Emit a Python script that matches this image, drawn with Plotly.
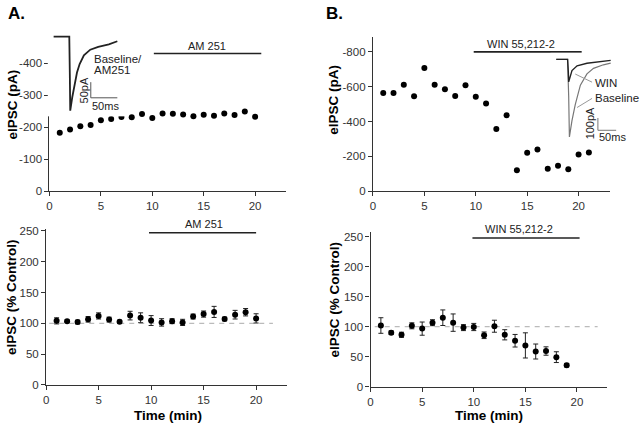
import plotly.graph_objects as go

W, H = 640, 432
FONT = "Liberation Sans, Arial, Helvetica, sans-serif"

# ---------------- data ----------------
time_a = list(range(1, 21))
eipsc_a = [-183, -193, -203, -207, -222, -226, -232, -231, -241, -229,
           -243, -242, -240, -234, -239, -236, -243, -238, -249, -233]

time_b = list(range(1, 22))
eipsc_b = [-564, -564, -611, -545, -708, -611, -586, -547, -608, -543,
           -503, -357, -436, -121, -221, -239, -129, -146, -127, -211, -222]

pct_time_a = list(range(1, 21))
pct_a = [104, 103.5, 102, 106.5, 112, 106, 102.5, 112.5, 109, 104.5,
         101.5, 103.5, 101.5, 111, 115, 118.5, 107, 114, 118, 108]
pct_a_err = [5, 2, 3, 4.5, 5, 4, 2.5, 7, 8, 8, 6, 4, 5, 4, 5, 9, 3, 7, 6, 7.5]

pct_time_b = list(range(1, 20))
pct_b = [102, 90, 86.5, 101.5, 96.8, 106.7, 115, 106.8, 98.5, 99.5,
         85.7, 100.8, 86.5, 76.6, 68.8, 58.6, 59.4, 49.2, 35.7]
pct_b_err = [13, 3, 4.3, 5, 11, 5, 13, 14.5, 5, 6, 5.5, 10, 8.5, 10.5, 21, 12.5, 7, 9, 3]

control_level = 100
control_span_a = [0.3, 21.6]
control_span_b = [0.4, 22.0]

# drug application bars (min) and their labels
drug_a = "AM 251"
drug_b = "WIN 55,212-2"
bar_a_top_x, bar_a_top_y = [10.15, 20.6], -430
bar_b_top_x, bar_b_top_y = [9.8, 20.3], -800
bar_a_bot_x, bar_a_bot_y = [9.8, 20.0], 247
bar_b_bot_x, bar_b_bot_y = [9.87, 20.25], 248

xticks = [0, 5, 10, 15, 20]
yticks_a_top = [0, -100, -200, -300, -400]
yticks_b_top = [0, -200, -400, -600, -800]
yticks_pct = [0, 50, 100, 150, 200, 250]

# inset traces (ms, pA)
insetA_ms = [11, 40.5, 41.5, 42.3, 46, 50, 55, 60, 68, 80, 95, 115, 131]
insetA_pA = [0, 0, -120, -237, -195, -155, -115, -88, -60, -42, -33, -25, -15]

insetB_win_ms = [16, 47, 49, 50, 59, 73, 100, 136, 165]
insetB_win_pA = [0, 0, -100, -183, -91, -52, -31, -18, -8]
insetB_base_ms = [16, 47, 50, 52, 59, 68, 82, 100, 118, 145, 165]
insetB_base_pA = [0, 0, -300, -630, -498, -367, -209, -118, -73, -44, -31]

# ---------------- helpers ----------------
def dx(p0, p1):
    return [p0 / W, p1 / W]

def dy(pb, pt):
    return [1 - pb / H, 1 - pt / H]

axis_style = dict(showline=True, linecolor="#333", linewidth=1.2, ticks="outside",
                  ticklen=4, tickwidth=1.2, tickcolor="#333", showgrid=False,
                  zeroline=False, tickfont=dict(family=FONT, size=11.5, color="#333"),
                  autorange=False, fixedrange=True)

fig = go.Figure()

# ---- panel A top
fig.add_trace(go.Scatter(x=time_a, y=eipsc_a, mode="markers",
                         marker=dict(color="black", size=6), xaxis="x", yaxis="y"))
fig.add_trace(go.Scatter(x=bar_a_top_x, y=[bar_a_top_y] * 2, mode="lines",
                         line=dict(color="#222", width=1.6), xaxis="x", yaxis="y"))
# ---- panel B top
fig.add_trace(go.Scatter(x=time_b, y=eipsc_b, mode="markers",
                         marker=dict(color="black", size=6), xaxis="x2", yaxis="y2"))
fig.add_trace(go.Scatter(x=bar_b_top_x, y=[bar_b_top_y] * 2, mode="lines",
                         line=dict(color="#222", width=1.6), xaxis="x2", yaxis="y2"))
# ---- panel A bottom
fig.add_trace(go.Scatter(x=control_span_a, y=[control_level] * 2, mode="lines",
                         line=dict(color="#bbb", width=1.2, dash="5px,5px"), xaxis="x3", yaxis="y3"))
fig.add_trace(go.Scatter(x=pct_time_a, y=pct_a, mode="markers",
                         marker=dict(color="black", size=6),
                         error_y=dict(type="data", array=pct_a_err, color="#222", thickness=1, width=2.5),
                         xaxis="x3", yaxis="y3"))
fig.add_trace(go.Scatter(x=bar_a_bot_x, y=[bar_a_bot_y] * 2, mode="lines",
                         line=dict(color="#222", width=1.6), xaxis="x3", yaxis="y3"))
# ---- panel B bottom
fig.add_trace(go.Scatter(x=control_span_b, y=[control_level] * 2, mode="lines",
                         line=dict(color="#bbb", width=1.2, dash="5px,5px"), xaxis="x4", yaxis="y4"))
fig.add_trace(go.Scatter(x=pct_time_b, y=pct_b, mode="markers",
                         marker=dict(color="black", size=6),
                         error_y=dict(type="data", array=pct_b_err, color="#222", thickness=1, width=2.5),
                         xaxis="x4", yaxis="y4"))
fig.add_trace(go.Scatter(x=bar_b_bot_x, y=[bar_b_bot_y] * 2, mode="lines",
                         line=dict(color="#222", width=1.6), xaxis="x4", yaxis="y4"))

# ---- inset A (current trace + scale bars)
fig.add_trace(go.Scatter(x=insetA_ms, y=insetA_pA, mode="lines",
                         line=dict(color="#222", width=1.8), xaxis="x5", yaxis="y5"))
fig.add_trace(go.Scatter(x=[81, 81, 131], y=[-146, -196, -196], mode="lines",
                         line=dict(color="#555", width=1), xaxis="x5", yaxis="y5"))
# ---- inset B
fig.add_trace(go.Scatter(x=insetB_base_ms, y=insetB_base_pA, mode="lines",
                         line=dict(color="#777", width=1.2), xaxis="x6", yaxis="y6"))
fig.add_trace(go.Scatter(x=insetB_win_ms, y=insetB_win_pA, mode="lines",
                         line=dict(color="#222", width=1.4), xaxis="x6", yaxis="y6"))
fig.add_trace(go.Scatter(x=[68, 114], y=[-119, -185], mode="lines",
                         line=dict(color="#999", width=1), xaxis="x6", yaxis="y6"))
fig.add_trace(go.Scatter(x=[73, 114], y=[-391, -317], mode="lines",
                         line=dict(color="#999", width=1), xaxis="x6", yaxis="y6"))
fig.add_trace(go.Scatter(x=[130, 130, 180], y=[-476, -576, -576], mode="lines",
                         line=dict(color="#777", width=1), xaxis="x6", yaxis="y6"))

fig.update_traces(showlegend=False, hoverinfo="skip")

def tt(vals):
    return [str(v) for v in vals]

fig.update_layout(
    width=W, height=H, margin=dict(l=0, r=0, t=0, b=0),
    paper_bgcolor="white", plot_bgcolor="white", showlegend=False,
    font=dict(family=FONT, color="#222"),
    xaxis=dict(axis_style, domain=dx(46.7, 46.7 + 23 * 10.33), range=[0, 23], anchor="y",
               tickvals=xticks),
    yaxis=dict(axis_style, domain=dy(191.7, 31.7), range=[0, -488], anchor="x",
               tickvals=yticks_a_top, ticktext=tt(yticks_a_top)),
    xaxis2=dict(axis_style, domain=dx(371.7, 371.7 + 23.1 * 10.33), range=[0, 23.1], anchor="y2",
                tickvals=xticks),
    yaxis2=dict(axis_style, domain=dy(191.7, 33.3), range=[0, -888], anchor="x2",
                tickvals=yticks_b_top, ticktext=tt(yticks_b_top)),
    xaxis3=dict(axis_style, domain=dx(43.3, 43.3 + 22.9 * 10.55), range=[0, 22.9], anchor="y3",
                tickvals=xticks),
    yaxis3=dict(axis_style, domain=dy(390, 230), range=[0, 253.5], anchor="x3",
                tickvals=yticks_pct),
    xaxis4=dict(axis_style, domain=dx(369.3, 369.3 + 22.9 * 10.37), range=[0, 22.9], anchor="y4",
                tickvals=xticks),
    yaxis4=dict(axis_style, domain=dy(391.7, 233.3), range=[0, 258.2], anchor="x4",
                tickvals=yticks_pct),
    xaxis5=dict(visible=False, domain=dx(45, 125), range=[0, 150], anchor="y5", fixedrange=True),
    yaxis5=dict(visible=False, domain=dy(115, 28), range=[-255.3, 16.6], anchor="x5", fixedrange=True),
    xaxis6=dict(visible=False, domain=dx(550, 625), range=[0, 204.4], anchor="y6", fixedrange=True),
    yaxis6=dict(visible=False, domain=dy(145, 50), range=[-700.8, 53.2], anchor="x6", fixedrange=True),
)

ann = []
def A(text, x, y, xref="paper", yref="paper", size=11, bold=False, angle=0,
      xanchor="center", yanchor="middle", color="#222"):
    if xref == "paper":
        x = x / W
    if yref == "paper":
        y = 1 - y / H
    ann.append(dict(text=f"<b>{text}</b>" if bold else text, x=x, y=y, xref=xref, yref=yref,
                    showarrow=False, textangle=angle, xanchor=xanchor, yanchor=yanchor,
                    font=dict(family=FONT, size=size, color=color)))

# panel letters
A("A.", 3, 10, size=17, bold=True, xanchor="left", color="black")
A("B.", 323, 10, size=17, bold=True, xanchor="left", color="black")
# axis titles
A("eIPSC (pA)", 10, 103, size=13.5, bold=True, angle=-90, color="black")
A("eIPSC (pA)", 332.5, 98, size=13.5, bold=True, angle=-90, color="black")
A("eIPSC (% Control)", 8, 300, size=13.5, bold=True, angle=-90, color="black")
A("eIPSC (% Control)", 333, 302, size=13.5, bold=True, angle=-90, color="black")
A("Time (min)", 166, 421.5, size=13.5, bold=True, color="black")
A("Time (min)", 488.7, 421.5, size=13.5, bold=True, color="black")
# drug labels (top panels in data coords, bottom panels above the axis range -> paper coords)
A(drug_a, 15.35, -455, xref="x", yref="y", size=11)
A(drug_b, 14.36, -843, xref="x2", yref="y2", size=11)
A(drug_a, 43.3 + 15.0 * 10.55, 225, size=11)
A(drug_b, 369.3 + 14.37 * 10.37, 230.7, size=11)
# inset A labels
A("Baseline/", 82.5, -72, xref="x5", yref="y5", size=11.5, xanchor="left")
A("AM251", 82.5, -108, xref="x5", yref="y5", size=11.5, xanchor="left")
A("50pA", 69, -171, xref="x5", yref="y5", size=11, angle=-90)
A("50ms", 108.8, -222, xref="x5", yref="y5", size=11)
# inset B labels
A("WIN", 117, -190, xref="x6", yref="y6", size=11.5, xanchor="left")
A("Baseline", 117, -317, xref="x6", yref="y6", size=11.5, xanchor="left")
A("100pA", 109, -518, xref="x6", yref="y6", size=11, angle=-90)
A("50ms", 169, -630, xref="x6", yref="y6", size=11)

fig.update_layout(annotations=ann)

fig.write_html("out.html", config={"displayModeBar": False},
               post_script="document.body.style.margin='0';")
